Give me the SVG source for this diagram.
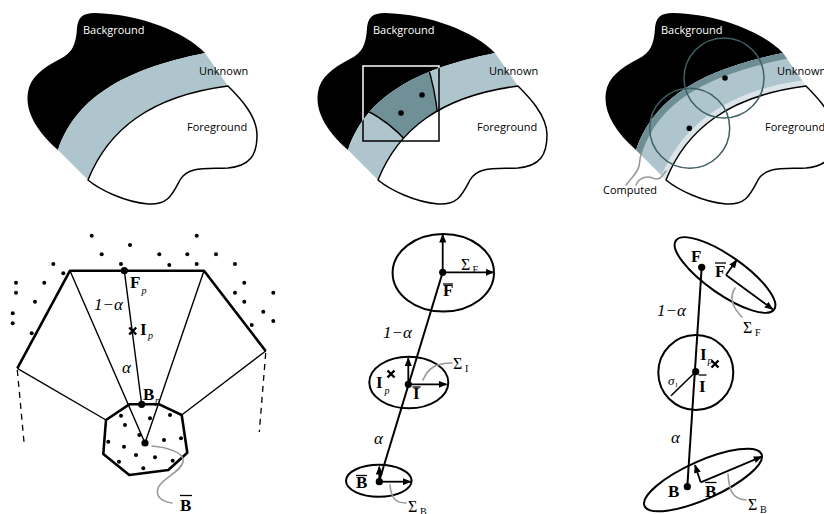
<svg xmlns="http://www.w3.org/2000/svg" width="824" height="514" viewBox="0 0 824 514">
<style>
.bgf{fill:#000}
.band{fill:#afc5cd}
.fg{fill:#fff;stroke:#000;stroke-width:1.5;stroke-linejoin:round}
.lbl{font-family:"Open Sans","Liberation Sans",sans-serif;font-size:11px;fill:#000}
.lw{fill:#fff}
.m{font-family:"Liberation Serif","DejaVu Serif",serif;font-size:17px;fill:#000}
.b{font-weight:bold}
.it{font-style:italic}
.sub{font-size:10px}
.sg{font-size:16px}
.thick{stroke:#000;stroke-width:2.6;fill:none;stroke-linejoin:round}
.thin{stroke:#000;stroke-width:1.4;fill:none}
.dash{stroke:#000;stroke-width:1.3;stroke-dasharray:6,5;fill:none}
.ell{stroke:#000;stroke-width:2;fill:none}
.axis{stroke:#000;stroke-width:1.8;fill:none;marker-end:url(#ah)}
.call{stroke:#999;stroke-width:1.6;fill:none;stroke-linecap:round}
.ov{stroke:#000;stroke-width:1.3}
.x{stroke:#000;stroke-width:2.4}
.ring{stroke:#3e5f63;stroke-width:1.5;fill:none}
</style>
<defs>
  <marker id="ah" viewBox="0 0 10 8" refX="9" refY="4" markerWidth="9" markerHeight="7" markerUnits="userSpaceOnUse" orient="auto">
    <path d="M0,0 L10,4 L0,8 Z" fill="#000"/>
  </marker>
  <!-- trimap regions, drawn in local panel coordinates -->
  <path id="bgShape" d="M58,150 C75,100 120,70 205,53 C185,32 140,14 95,13 C82,13 78,18 77,28 C76,45 72,53 60,59 C42,68 30,78 28,92 C25,110 35,130 58,150 Z"/>
  <path id="bandShape" d="M58,150 C75,100 120,70 205,53 L228,86 C150,96 108,130 88,180 Z"/>
  <path id="fgShape" d="M88,180 C108,130 150,96 228,86 C238,96 257,115 257,135 C257,155 250,166 228,168 C205,169 188,166 180,180 C172,195 168,205 148,204 C125,202 100,190 88,180 Z"/>
  <clipPath id="bandClip" clipPathUnits="userSpaceOnUse"><use href="#bandShape"/></clipPath>
  <clipPath id="bgClip" clipPathUnits="userSpaceOnUse"><use href="#bgShape"/></clipPath>
  <clipPath id="winClip" clipPathUnits="userSpaceOnUse">
    <path d="M74,109 Q100,122 118,143 L152,143 L148,118 Q145,88 137,64 L66,64 Z"/>
  </clipPath>
</defs>

<!-- top row: trimap -->
<g id="trimap">
  <use href="#bgShape" class="bgf"/>
  <use href="#bandShape" class="band"/>
  <use href="#fgShape" class="fg"/>
  <text class="lbl lw" x="83" y="34">Background</text>
  <text class="lbl" x="199" y="75">Unknown</text>
  <text class="lbl" x="187" y="131">Foreground</text>
</g>

<!-- top row: window neighbourhood -->
<g id="window" transform="translate(290,0)">
  <use href="#bgShape" class="bgf"/>
  <use href="#bandShape" class="band"/>
  <use href="#bandShape" fill="#6f9096" clip-path="url(#winClip)"/>
  <g clip-path="url(#bandClip)">
    <path class="thin" d="M74,109 Q100,122 118,143"/>
    <path class="thin" d="M137,64 Q145,88 148,118"/>
  </g>
  <use href="#fgShape" class="fg"/>
  <rect x="73" y="66" width="76" height="75" fill="none" stroke="#000" stroke-width="1.5"/>
  <rect x="73" y="66" width="76" height="75" fill="none" stroke="#fff" stroke-width="1.5" clip-path="url(#bgClip)"/>
  <circle cx="132" cy="95" r="2.8"/>
  <circle cx="111" cy="113" r="2.8"/>
  <text class="lbl lw" x="83" y="34">Background</text>
  <text class="lbl" x="199" y="75">Unknown</text>
  <text class="lbl" x="187" y="131">Foreground</text>
</g>

<!-- top row: sampling circles -->
<g id="sampling" transform="translate(578,0)">
  <use href="#bgShape" class="bgf"/>
  <use href="#bandShape" class="band"/>
  <g clip-path="url(#bandClip)" fill="none">
    <path d="M52,168 L58,150 C75,100 120,70 205,53 L225,48" stroke="#6d8e94" stroke-width="13"/>
    <path d="M80,200 L88,180 C108,130 150,96 228,86 L250,83" stroke="#dbe5e9" stroke-width="12"/>
  </g>
  <use href="#fgShape" class="fg"/>
  <circle class="ring" cx="146" cy="78" r="40"/>
  <circle class="ring" cx="111.7" cy="128.3" r="40"/>
  <circle cx="147" cy="78" r="2.8"/>
  <circle cx="111.3" cy="128.3" r="2.8"/>
  <text class="lbl lw" x="83" y="34">Background</text>
  <text class="lbl" x="199" y="75">Unknown</text>
  <text class="lbl" x="187" y="131">Foreground</text>
  <path class="call" d="M48,185 C55,176 60,172 61,166 C62,160 62,156 64,152"/>
  <path class="call" d="M58,185 C60,180 64,177 70,177 C75,177 78,181 82,178 C85,176 86,173 88,171"/>
  <text class="lbl" x="25" y="194">Computed</text>
</g>

<!-- bottom left: polygon sampling -->
<g id="polygon">
  <g fill="#000">
    <circle cx="91.7" cy="235.7" r="2"/><circle cx="196.7" cy="235.7" r="2"/><circle cx="130" cy="245" r="2"/>
    <circle cx="101.7" cy="254.3" r="2"/><circle cx="159.3" cy="254.3" r="2"/><circle cx="187.3" cy="254.3" r="2"/>
    <circle cx="216" cy="254.3" r="2"/><circle cx="53.3" cy="264" r="2"/><circle cx="121" cy="264" r="2"/>
    <circle cx="169.3" cy="265" r="2"/><circle cx="196.7" cy="264" r="2"/><circle cx="235" cy="264" r="2"/>
    <circle cx="63.3" cy="273.3" r="2"/><circle cx="16" cy="282.7" r="2"/><circle cx="44.3" cy="282.7" r="2"/>
    <circle cx="244.3" cy="282.7" r="2"/><circle cx="16" cy="292.7" r="2"/><circle cx="35" cy="301.7" r="2"/>
    <circle cx="235" cy="292.7" r="2"/><circle cx="273.3" cy="292.7" r="2"/><circle cx="244.3" cy="301.7" r="2"/>
    <circle cx="12.7" cy="313.3" r="2"/><circle cx="12.7" cy="323.3" r="2"/><circle cx="263.3" cy="311.7" r="2"/>
    <circle cx="273.3" cy="321" r="2"/><circle cx="31.7" cy="333.3" r="2"/><circle cx="251.7" cy="325" r="2"/>
    <circle cx="121" cy="415.7" r="2"/><circle cx="125" cy="425" r="2"/><circle cx="150" cy="418.3" r="2"/>
    <circle cx="170" cy="415" r="2"/><circle cx="139.3" cy="435" r="2"/><circle cx="108.3" cy="441.7" r="2"/>
    <circle cx="124" cy="446.7" r="2"/><circle cx="164" cy="440" r="2"/><circle cx="181" cy="438.3" r="2"/>
    <circle cx="136" cy="455" r="2"/><circle cx="155" cy="457.3" r="2"/><circle cx="172.7" cy="460.7" r="2"/>
    <circle cx="119" cy="461.7" r="2"/><circle cx="143.3" cy="468.3" r="2"/>
  </g>
  <path class="thin" d="M70,270.7 L145,443 L204,270.7 M17.3,368.3 L106,420 M265.7,351 L181.7,415 M124.3,270.7 L141.7,404.3"/>
  <path class="thick" d="M17.3,368.3 L70,270.7 L204,270.7 L265.7,351"/>
  <path class="thick" d="M106,420 L129.3,404.3 L159.3,404.3 L181.7,415 L187.3,452.7 L168.3,470 L129.3,475 L103.3,454 Z"/>
  <path class="dash" d="M17.3,370 L24,442"/>
  <path class="dash" d="M265.7,353 L259.3,432"/>
  <circle cx="124.3" cy="270.7" r="3.6"/>
  <circle cx="141.7" cy="404.3" r="3.6"/>
  <circle cx="145" cy="443" r="3.6"/>
  <path class="x" d="M129.2,327.5 L136.2,334.5 M136.2,327.5 L129.2,334.5"/>
  <text class="m b" x="130" y="288">F</text><text class="m it sub" x="141.5" y="294">p</text>
  <text class="m it" x="94" y="310">1−α</text>
  <text class="m b" x="140" y="335">I</text><text class="m it sub" x="148" y="339">p</text>
  <text class="m it" x="122" y="373">α</text>
  <text class="m b" x="143" y="400">B</text><text class="m it sub" x="155" y="404">p</text>
  <path class="call" d="M152,446 C165,447 185,452 183,462 C181,472 162,478 158,488 C155,497 163,502 172,503"/>
  <text class="m b" x="180" y="511" style="font-size:17px">B</text>
  <line class="ov" x1="180" y1="495.5" x2="192" y2="495.5"/>
</g>

<!-- bottom middle: Gaussian clusters -->
<g id="gaussians">
  <ellipse class="ell" cx="443.3" cy="272.8" rx="50.7" ry="38.8"/>
  <ellipse class="ell" cx="408.8" cy="382.5" rx="39.5" ry="25.8"/>
  <ellipse class="ell" cx="378.8" cy="480.8" rx="32.8" ry="16"/>
  <line x1="442.7" y1="272.3" x2="379" y2="481.7" stroke="#000" stroke-width="2"/>
  <path class="axis" d="M442.7,272.3 L442.7,234.5"/>
  <path class="axis" d="M442.7,272.3 L493.5,272.3"/>
  <path class="axis" d="M408.3,384.3 L408.3,358"/>
  <path class="axis" d="M408.3,384.3 L446.5,384.3"/>
  <path class="axis" d="M379.3,481.7 L379.3,466.7"/>
  <path class="axis" d="M379.3,481.7 L410.7,481.7"/>
  <circle cx="442.7" cy="272.3" r="3.6"/>
  <circle cx="408.3" cy="384.3" r="3.6"/>
  <circle cx="379.3" cy="481.7" r="3.6"/>
  <text class="m b" x="443" y="296">F</text><line class="ov" x1="443" y1="284" x2="453" y2="284"/>
  <text class="m sg" x="461" y="270">Σ</text><text class="m sub" x="472.5" y="273">F</text>
  <text class="m it" x="383" y="338">1−α</text>
  <text class="m b" x="376" y="388">I</text><text class="m it sub" x="384.5" y="394">p</text>
  <path class="x" d="M387.5,370.5 L394.5,377.5 M394.5,370.5 L387.5,377.5"/>
  <text class="m b" x="413" y="399">I</text><line class="ov" x1="412.5" y1="387" x2="420.5" y2="387"/>
  <path class="call" d="M423,380 C428,368 436,363 452,363"/>
  <text class="m sg" x="453" y="369">Σ</text><text class="m sub" x="465" y="372">I</text>
  <text class="m it" x="374" y="444">α</text>
  <text class="m b" x="356" y="488">B</text><line class="ov" x1="356" y1="475.5" x2="367" y2="475.5"/>
  <path class="call" d="M390,485 C391,496 394,503 406,503"/>
  <text class="m sg" x="408" y="512">Σ</text><text class="m sub" x="420" y="515">B</text>
</g>

<!-- bottom right: anisotropic clusters -->
<g id="anisotropic">
  <ellipse class="ell" cx="725" cy="275" rx="60" ry="19" transform="rotate(35 725 275)"/>
  <circle class="ell" cx="695.8" cy="372.5" r="37.5"/>
  <ellipse class="ell" cx="703" cy="480" rx="64" ry="19" transform="rotate(-24 703 480)"/>
  <line x1="701.7" y1="267.3" x2="687.3" y2="486.7" stroke="#000" stroke-width="2"/>
  <line x1="695.7" y1="371.7" x2="671" y2="395.7" stroke="#000" stroke-width="1.6"/>
  <path class="axis" d="M726,275 L736.7,260"/>
  <path class="axis" d="M726,275 L772.7,309.3"/>
  <path class="axis" d="M700.7,482.3 L695,465"/>
  <path class="axis" d="M700.7,482.3 L761.7,456.7"/>
  <circle cx="701.7" cy="267.3" r="3.6"/>
  <circle cx="695.7" cy="371.7" r="3.6"/>
  <circle cx="687.3" cy="486.7" r="3.6"/>
  <text class="m b" x="691" y="262">F</text>
  <text class="m b" x="715" y="277">F</text><line class="ov" x1="715" y1="263" x2="726" y2="263"/>
  <path class="call" d="M735,288 C730,296 731,306 742,317"/>
  <text class="m sg" x="743" y="333">Σ</text><text class="m sub" x="755" y="336">F</text>
  <text class="m it" x="657" y="316">1−α</text>
  <text class="m b" x="700" y="360">I</text><text class="m it sub" x="707.5" y="364">p</text>
  <path class="x" d="M711.5,360.5 L718.5,367.5 M718.5,360.5 L711.5,367.5"/>
  <text class="m it" x="668" y="385" style="font-size:13px">σ</text><text class="m" x="675.5" y="387" style="font-size:6px">I</text>
  <text class="m b" x="699" y="392">I</text><line class="ov" x1="698.5" y1="375" x2="706.5" y2="375"/>
  <text class="m it" x="671" y="443">α</text>
  <text class="m b" x="668" y="497">B</text>
  <text class="m b" x="705" y="497">B</text><line class="ov" x1="705" y1="482.5" x2="716.5" y2="482.5"/>
  <path class="call" d="M728,474 C729,488 731,499 746,500"/>
  <text class="m sg" x="748" y="510">Σ</text><text class="m sub" x="760" y="513">B</text>
</g>
</svg>
